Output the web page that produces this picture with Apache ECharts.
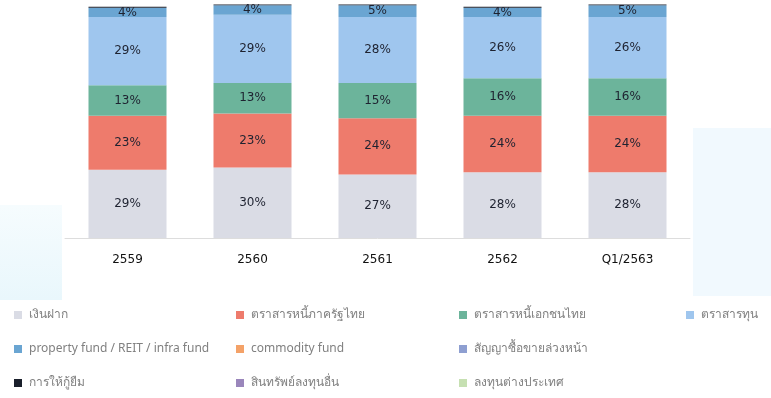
<!DOCTYPE html>
<html>
<head>
<meta charset="utf-8">
<script src="https://cdn.jsdelivr.net/npm/echarts@6/dist/echarts.min.js"></script>
<style>
  html, body { margin: 0; padding: 0; background: #ffffff; }
  #chart { width: 771px; height: 398px; }
</style>
</head>
<body>
<div id="chart"></div>
<script>
// Portfolio allocation by year (percent of fund assets)
const categories = ['2559', '2560', '2561', '2562', 'Q1/2563'];

const deposits      = [29, 30, 27, 28, 28];   // เงินฝาก
const govDebt       = [23, 23, 24, 24, 24];   // ตราสารหนี้ภาครัฐไทย
const corpDebt      = [13, 13, 15, 16, 16];   // ตราสารหนี้เอกชนไทย
const equity        = [29, 29, 28, 26, 26];   // ตราสารทุน
const propertyFund  = [4, 4, 5, 4, 5];        // property fund / REIT / infra fund
const commodityFund = [0, 0, 0, 0, 0];        // commodity fund
const derivatives   = [0, 0, 0, 0, 0];        // สัญญาซื้อขายล่วงหน้า
const lending       = [0.4, 0.4, 0.4, 0.4, 0.4]; // การให้กู้ยืม
const otherAssets   = [0, 0, 0, 0, 0];        // สินทรัพย์ลงทุนอื่น
const foreignInv    = [0, 0, 0, 0, 0];        // ลงทุนต่างประเทศ

const seriesDefs = [
  { name: 'เงินฝาก', data: deposits, color: '#dadce5', label: true },
  { name: 'ตราสารหนี้ภาครัฐไทย', data: govDebt, color: '#ee7b6c', label: true },
  { name: 'ตราสารหนี้เอกชนไทย', data: corpDebt, color: '#6cb49b', label: true },
  { name: 'ตราสารทุน', data: equity, color: '#9fc6ee', label: true },
  { name: 'property fund / REIT / infra fund', data: propertyFund, color: '#6aa5d2', label: true },
  { name: 'commodity fund', data: commodityFund, color: '#f4a268', label: false },
  { name: 'สัญญาซื้อขายล่วงหน้า', data: derivatives, color: '#8e9fd1', label: false },
  { name: 'การให้กู้ยืม', data: lending, color: '#1a1f2b', label: false },
  { name: 'สินทรัพย์ลงทุนอื่น', data: otherAssets, color: '#9a86bb', label: false },
  { name: 'ลงทุนต่างประเทศ', data: foreignInv, color: '#c6e0b2', label: false }
];

// Legend grid: four columns, three rows
const legendCols = [14, 236, 459, 686];
const legendRows = [309, 343, 377];
const legendCells = [
  ['เงินฝาก', 0, 0],
  ['ตราสารหนี้ภาครัฐไทย', 1, 0],
  ['ตราสารหนี้เอกชนไทย', 2, 0],
  ['ตราสารทุน', 3, 0],
  ['property fund / REIT / infra fund', 0, 1],
  ['commodity fund', 1, 1],
  ['สัญญาซื้อขายล่วงหน้า', 2, 1],
  ['การให้กู้ยืม', 0, 2],
  ['สินทรัพย์ลงทุนอื่น', 1, 2],
  ['ลงทุนต่างประเทศ', 2, 2]
];

const chart = echarts.init(document.getElementById('chart'), null, { renderer: 'canvas' });

const option = {
  backgroundColor: '#ffffff',
  animation: false,
  textStyle: { fontFamily: '"DejaVu Sans", "Noto Sans", sans-serif' },
  graphic: [
    { type: 'rect', left: 0, top: 205, shape: { width: 62, height: 95 },
      style: { fill: new echarts.graphic.LinearGradient(0, 0, 0, 1, [
        { offset: 0, color: '#f6fcfe' }, { offset: 1, color: '#e9f7fc' }]) },
      silent: true, z: -10 },
    { type: 'rect', left: 693, top: 128, shape: { width: 78, height: 168 },
      style: { fill: '#f1f9fe' }, silent: true, z: -10 }
  ],
  grid: { left: 65, right: 81, top: 3, bottom: 160, containLabel: false },
  xAxis: {
    type: 'category',
    data: categories,
    axisLine: { show: true, lineStyle: { color: '#dddddd', width: 1 } },
    axisTick: { show: false },
    axisLabel: { color: '#111111', fontSize: 12, margin: 16,
                 fontFamily: '"DejaVu Sans", sans-serif' }
  },
  yAxis: {
    type: 'value', min: 0, max: 100,
    show: false, splitLine: { show: false }
  },
  legend: legendCells.map(([name, c, r]) => ({
    orient: 'horizontal',
    left: legendCols[c],
    top: legendRows[r],
    itemWidth: 8,
    itemHeight: 8,
    itemGap: 8,
    icon: 'rect',
    padding: 0,
    data: [name],
    textStyle: { color: '#808080', fontSize: 12, padding: [0, 0, 0, 2],
                 fontFamily: '"Noto Sans", "DejaVu Sans", sans-serif' },
    selectedMode: false
  })),
  series: seriesDefs.map(s => ({
    name: s.name,
    type: 'bar',
    stack: 'total',
    barWidth: 78,
    data: s.data,
    itemStyle: { color: s.color },
    label: {
      show: s.label,
      position: 'inside',
      formatter: p => p.value + '%',
      color: '#1e2230',
      fontSize: 12,
      fontFamily: '"DejaVu Sans", sans-serif'
    }
  }))
};

chart.setOption(option);
</script>
</body>
</html>
